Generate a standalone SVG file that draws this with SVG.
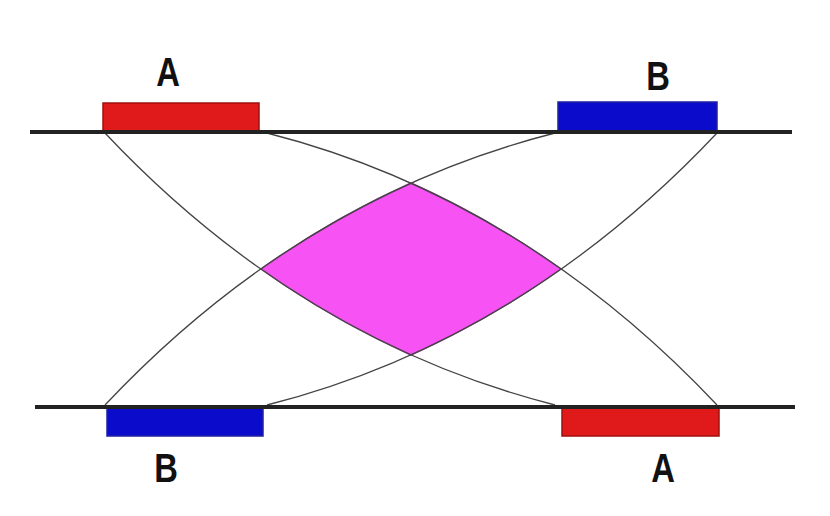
<svg xmlns="http://www.w3.org/2000/svg" width="830" height="516" viewBox="0 0 830 516">
  <style>
    .red { fill: #e0191b; stroke: #a01010; stroke-width: 1.5; }
    .blue { fill: #0b0bcc; stroke: #2020a0; stroke-width: 1.5; }
    .axis { stroke: #222; stroke-width: 4; fill: none; }
    .link { stroke: #444; stroke-width: 1.3; fill: none; }
    .lbl { font-family: "Liberation Sans", Arial, sans-serif; font-weight: bold; font-size: 40px; fill: #111; text-anchor: middle; }
  </style>
  <rect x="0" y="0" width="830" height="516" fill="#ffffff"/>
  <g id="overlap">
    <path d="M411,183 Q489,218 561,269 Q489,320 411,355 Q333,320 261,269 Q333,218 411,183 Z" fill="#f652f4" stroke="#a845a8" stroke-width="1.5"/>
  </g>
  <g id="connectors">
    <path class="link" d="M105,133 Q300,340 555,405"/>
    <path class="link" d="M267,133 Q522,198 717,405"/>
    <path class="link" d="M555,133 Q300,198 105,405"/>
    <path class="link" d="M717,133 Q522,340 267,405"/>
  </g>
  <g id="top-chromosome">
    <rect class="red" x="103" y="103" width="156" height="28"/>
    <rect class="blue" x="558" y="102" width="159" height="29"/>
    <line class="axis" x1="30" y1="132" x2="792" y2="132"/>
  </g>
  <g id="bottom-chromosome">
    <rect class="blue" x="107" y="407" width="156" height="29"/>
    <rect class="red" x="562" y="407" width="157" height="29"/>
    <line class="axis" x1="35" y1="407" x2="795" y2="407"/>
  </g>
  <g id="label-top-A"><text class="lbl" transform="translate(168,86) scale(0.82,1)">A</text></g>
  <g id="label-top-B"><text class="lbl" transform="translate(658,90) scale(0.82,1)">B</text></g>
  <g id="label-bottom-B"><text class="lbl" transform="translate(166,482) scale(0.82,1)">B</text></g>
  <g id="label-bottom-A"><text class="lbl" transform="translate(663,482) scale(0.82,1)">A</text></g>
</svg>
